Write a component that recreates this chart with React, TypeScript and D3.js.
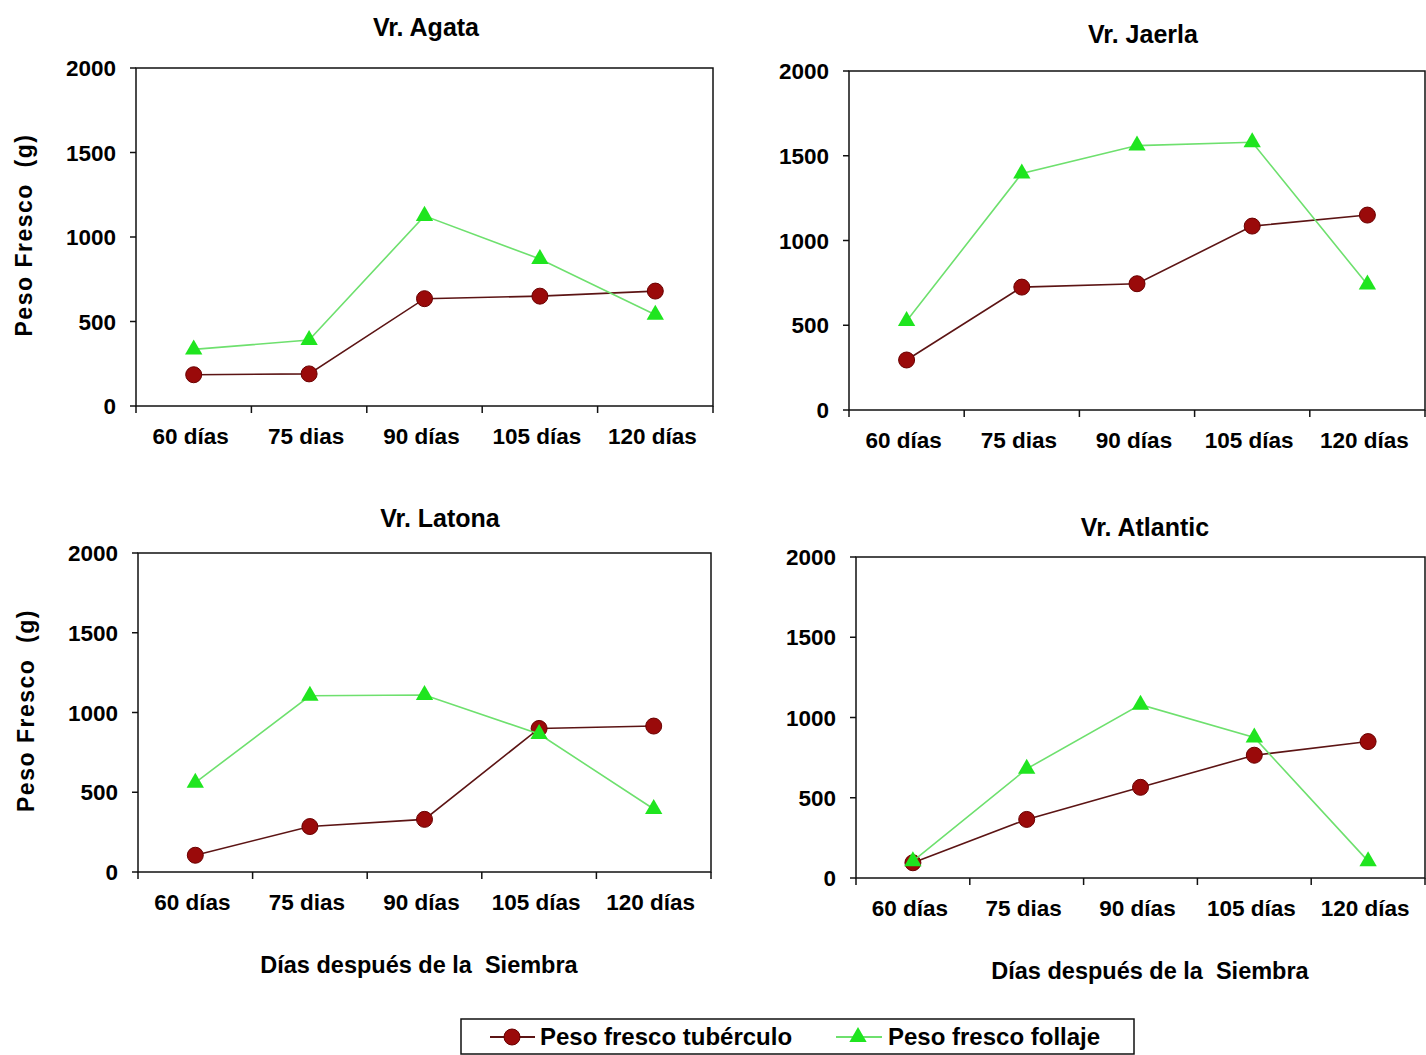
import React from "react";
import * as d3 from "d3";

// category labels and y ticks
const categories = ["60 días", "75 dias", "90 días", "105 días", "120 días"];
const yTicks = [0, 500, 1000, 1500, 2000];

// values (g)
const agataTuber = [185, 190, 635, 650, 680];
const agataFoliage = [335, 390, 1125, 870, 540];
const jaerlaTuber = [295, 725, 745, 1085, 1150];
const jaerlaFoliage = [525, 1395, 1560, 1580, 740];
const latonaTuber = [105, 285, 330, 900, 915];
const latonaFoliage = [560, 1105, 1110, 865, 395];
const atlanticTuber = [95, 365, 565, 765, 850];
const atlanticFoliage = [105, 680, 1080, 875, 105];

const tuberColor = "#9a0a0a";
const tuberLine = "#5c1414";
const foliageColor = "#1fe51f";
const foliageLine = "#6ee06e";
const font = "'Liberation Sans', Arial, sans-serif";

type Panel = {
  title: string;
  tuber: number[];
  foliage: number[];
  left: number;
  top: number;
  right: number;
  bottom: number;
  titleX: number;
  titleY: number;
  yTitle: boolean;
  xTitle: boolean;
  xTitleX: number;
  xTitleY: number;
};

const panels: Panel[] = [
  { title: "Vr. Agata", tuber: agataTuber, foliage: agataFoliage, left: 136, top: 68, right: 713, bottom: 406, titleX: 426, titleY: 36, yTitle: true, xTitle: false, xTitleX: 0, xTitleY: 0 },
  { title: "Vr. Jaerla", tuber: jaerlaTuber, foliage: jaerlaFoliage, left: 849, top: 71, right: 1425, bottom: 410, titleX: 1143, titleY: 43, yTitle: false, xTitle: false, xTitleX: 0, xTitleY: 0 },
  { title: "Vr. Latona", tuber: latonaTuber, foliage: latonaFoliage, left: 138, top: 553, right: 711, bottom: 872, titleX: 440, titleY: 527, yTitle: true, xTitle: true, xTitleX: 419, xTitleY: 973 },
  { title: "Vr. Atlantic", tuber: atlanticTuber, foliage: atlanticFoliage, left: 856, top: 557, right: 1425, bottom: 878, titleX: 1145, titleY: 536, yTitle: false, xTitle: true, xTitleX: 1150, xTitleY: 979 },
];

const tri = d3.symbol().type(d3.symbolTriangle).size(130)();

const ChartPanel: React.FC<{ p: Panel }> = ({ p }) => {
  const x = d3.scaleBand<string>().domain(categories).range([p.left, p.right]);
  const y = d3.scaleLinear().domain([0, 2000]).range([p.bottom, p.top]);
  const cx = (i: number) => (x(categories[i]) as number) + x.bandwidth() / 2;
  const line = d3
    .line<number>()
    .x((_d, i) => cx(i))
    .y((d) => y(d));
  const edges = categories.map((c) => x(c) as number).concat([p.right]);

  return (
    <g>
      <text x={p.titleX} y={p.titleY} textAnchor="middle" fontFamily={font} fontWeight="bold" fontSize={25}>
        {p.title}
      </text>
      {/* frame */}
      <rect x={p.left} y={p.top} width={p.right - p.left} height={p.bottom - p.top} fill="none" stroke="#111" strokeWidth={1.5} />
      {/* y axis */}
      {yTicks.map((t) => (
        <g key={t}>
          <line x1={p.left - 6} x2={p.left} y1={y(t)} y2={y(t)} stroke="#111" strokeWidth={1.5} />
          <text x={p.left - 20} y={y(t)} dy="0.36em" textAnchor="end" fontFamily={font} fontWeight="bold" fontSize={22.5}>
            {t}
          </text>
        </g>
      ))}
      {/* x axis */}
      {edges.map((e, i) => (
        <line key={i} x1={e} x2={e} y1={p.bottom} y2={p.bottom + 7} stroke="#111" strokeWidth={1.5} />
      ))}
      {categories.map((c, i) => (
        <text key={c} x={cx(i) - 3} y={p.bottom + 38} textAnchor="middle" fontFamily={font} fontWeight="bold" fontSize={22.5}>
          {c}
        </text>
      ))}
      {p.yTitle && (
        <text
          transform={`translate(${p.left - 104},${(p.top + p.bottom) / 2 - 2}) rotate(-90)`}
          textAnchor="middle"
          fontFamily={font}
          fontWeight="bold"
          fontSize={23}
          letterSpacing={1.5}
          style={{ whiteSpace: "pre" }}
        >
          {"Peso Fresco  (g)"}
        </text>
      )}
      {p.xTitle && (
        <text x={p.xTitleX} y={p.xTitleY} textAnchor="middle" fontFamily={font} fontWeight="bold" fontSize={23.5} style={{ whiteSpace: "pre" }}>
          {"Días después de la  Siembra"}
        </text>
      )}
      {/* tuber series */}
      <path d={line(p.tuber) ?? ""} fill="none" stroke={tuberLine} strokeWidth={1.6} />
      {p.tuber.map((v, i) => (
        <circle key={i} cx={cx(i)} cy={y(v)} r={8} fill={tuberColor} stroke="#6a0000" strokeWidth={1} />
      ))}
      {/* foliage series */}
      <path d={line(p.foliage) ?? ""} fill="none" stroke={foliageLine} strokeWidth={1.6} />
      {p.foliage.map((v, i) => (
        <path key={i} d={tri ?? ""} transform={`translate(${cx(i)},${y(v)})`} fill={foliageColor} />
      ))}
    </g>
  );
};

const Legend: React.FC = () => {
  return (
    <g>
      <rect x={461} y={1019} width={673} height={35} fill="white" stroke="#111" strokeWidth={1.5} />
      <line x1={490} x2={535} y1={1037} y2={1037} stroke={tuberLine} strokeWidth={2} />
      <circle cx={512} cy={1037} r={8} fill={tuberColor} stroke="#6a0000" />
      <text x={540} y={1045} fontFamily={font} fontWeight="bold" fontSize={24}>
        Peso fresco tubérculo
      </text>
      <line x1={836} x2={882} y1={1037} y2={1037} stroke={foliageLine} strokeWidth={2} />
      <path d={tri ?? ""} transform="translate(858,1037)" fill={foliageColor} />
      <text x={888} y={1045} fontFamily={font} fontWeight="bold" fontSize={24}>
        Peso fresco follaje
      </text>
    </g>
  );
};

export default function App() {
  return (
    <svg width={1426} height={1055} style={{ position: "absolute", left: 0, top: 0, background: "white" }}>
      <rect width={1426} height={1055} fill="white" />
      {panels.map((p) => (
        <ChartPanel key={p.title} p={p} />
      ))}
      <Legend />
    </svg>
  );
}
